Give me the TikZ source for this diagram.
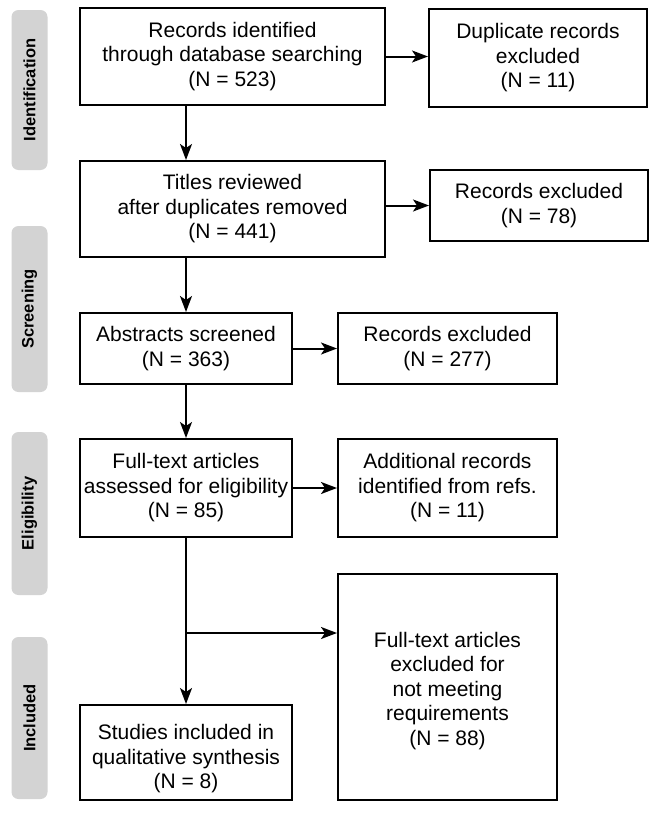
\documentclass[tikz,border=0pt]{standalone}
\usepackage{fontspec}
\setmainfont{Liberation Sans}
\usetikzlibrary{arrows.meta}
\definecolor{labelgray}{RGB}{211,211,211}
\tikzset{
  box/.style={draw=black, line width=2pt, fill=white, align=center, inner xsep=2pt, inner ysep=0pt,
    font=\fontsize{21}{24.5}\selectfont},
  phase/.style={fill=labelgray, rounded corners=7pt, rotate=90, minimum height=36pt, inner sep=0pt,
    font=\fontsize{16.5}{18}\selectfont\bfseries},
  arr/.style={line width=2pt, -{Stealth[length=16pt,width=12pt,inset=4pt]}}
}
\begin{document}
\begin{tikzpicture}[x=1pt,y=-1pt]
\useasboundingbox (0,0) rectangle (657,819);
% phase labels
\node[phase, minimum width=160pt] (pid) at (29.5,90) {Identification};
\node[phase, minimum width=166pt] (psc) at (29.5,309) {Screening};
\node[phase, minimum width=163pt] (pel) at (29.5,513.5) {Eligibility};
\node[phase, minimum width=162pt] (pin) at (29.5,718) {Included};
% boxes
\node[box, minimum width=305pt, minimum height=97pt] (b1) at (232.5,56.5) {Records identified\\through database searching\\(N = 523)};
\node[box, minimum width=218pt, minimum height=98pt] (b2) at (538,58) {Duplicate records\\excluded\\(N = 11)};
\node[box, minimum width=305pt, minimum height=96pt] (b3) at (232.5,209) {Titles reviewed\\after duplicates removed\\(N = 441)};
\node[box, minimum width=218pt, minimum height=71pt] (b4) at (539,205.5) {Records excluded\\(N = 78)};
\node[box, minimum width=212pt, minimum height=71pt] (b5) at (186,348.5) {Abstracts screened\\(N = 363)};
\node[box, minimum width=219pt, minimum height=71pt] (b6) at (447.5,348.5) {Records excluded\\(N = 277)};
\node[box, minimum width=212pt, minimum height=98pt] (b7) at (186,488) {Full-text articles\\assessed for eligibility\\(N = 85)};
\node[box, minimum width=219pt, minimum height=98pt] (b8) at (447.5,488) {Additional records\\identified from refs.\\(N = 11)};
\node[box, minimum width=219pt, minimum height=226pt] (b9) at (447.5,687) {\rule{0pt}{23pt}Full-text articles\\excluded for\\not meeting\\requirements\\(N = 88)};
\node[box, minimum width=212pt, minimum height=95pt] (b10) at (186,752.5) {\rule{0pt}{28pt}Studies included in\\qualitative synthesis\\(N = 8)};
% connectors
\draw[arr] (b1.east) -- (b1.east -| b2.west);
\draw[arr] (b3.east |- b4.west) -- (b4.west);
\draw[arr] (b5.east) -- (b6.west);
\draw[arr] (b7.east) -- (b8.west);
\draw[arr] (b1.south -| b5.north) -- (b3.north -| b5.north);
\draw[arr] (b3.south -| b5.north) -- (b5.north);
\draw[arr] (b5.south) -- (b7.north);
\draw[arr] (b7.south) -- (b10.north);
\coordinate (br) at (186,633);
\draw[arr] (br) -- (br -| b9.west);
\end{tikzpicture}
\end{document}
